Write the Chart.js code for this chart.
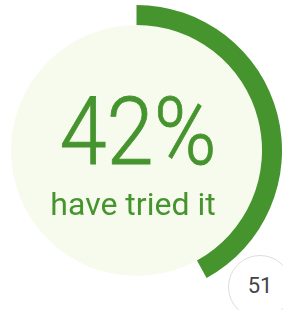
<!DOCTYPE html>
<html>
<head>
<meta charset="utf-8">
<script src="https://cdn.jsdelivr.net/npm/chart.js@4.4.1/dist/chart.umd.min.js"></script>
<style>
  html, body { margin: 0; padding: 0; background: #fff; overflow: hidden; }
  body { width: 283px; height: 310px; position: relative; }
  #wrap { position: absolute; left: -9px; top: 5px; width: 291px; height: 291px; }
  #badge {
    position: absolute; left: 228px; top: 255px; width: 64px; height: 64px;
    box-sizing: border-box; border: 1px solid #dcdcdc; border-radius: 50%;
    background: #fff; color: #444; font: 22px Roboto, sans-serif;
    display: flex; align-items: center; justify-content: center;
    padding-bottom: 4px;
  }
</style>
</head>
<body>
<div id="wrap"><canvas id="chart"></canvas></div>
<div id="badge"></div>

<script>
// data
const labels = ["Tried it", "Not tried"];
const values = [42, 58];
const bigLabel = "42%";
const subLabel = "have tried it";
const badgeValue = 51;

const green = "#46942e";
const paleGreen = "#f7fbee";

document.getElementById("badge").textContent = badgeValue;

// fills the hole of the ring and writes the text in it
const centerPlugin = {
  id: "centerPlugin",
  beforeDatasetsDraw(chart) {
    const arc = chart.getDatasetMeta(0).data[0];
    const ctx = chart.ctx;
    ctx.save();
    ctx.beginPath();
    ctx.arc(arc.x, arc.y, arc.innerRadius, 0, Math.PI * 2);
    ctx.fillStyle = paleGreen;
    ctx.fill();
    ctx.restore();
  },
  afterDatasetsDraw(chart) {
    const arc = chart.getDatasetMeta(0).data[0];
    const ctx = chart.ctx;
    ctx.save();
    ctx.fillStyle = green;
    ctx.textAlign = "center";
    ctx.textBaseline = "alphabetic";
    ctx.font = "300 94px Roboto";
    ctx.lineWidth = 0.8;
    ctx.strokeStyle = green;
    ctx.fillText(bigLabel, arc.x + 1.5, arc.y + 13.5, 157);
    ctx.strokeText(bigLabel, arc.x + 1.5, arc.y + 13.5, 157);
    ctx.font = "400 32px Roboto";
    ctx.fillText(subLabel, arc.x - 3.5, arc.y + 64.5, 167);
    ctx.restore();
  },
};

new Chart(document.getElementById("chart"), {
  type: "doughnut",
  data: {
    labels: labels,
    datasets: [
      {
        data: values,
        backgroundColor: [green, "rgba(0,0,0,0)"],
        borderWidth: 0,
        hoverOffset: 0,
      },
    ],
  },
  options: {
    responsive: true,
    maintainAspectRatio: false,
    animation: false,
    cutout: 125.5,
    layout: { padding: 0 },
    plugins: {
      legend: { display: false },
      tooltip: { enabled: false },
    },
  },
  plugins: [centerPlugin],
});
</script>
</body>
</html>
